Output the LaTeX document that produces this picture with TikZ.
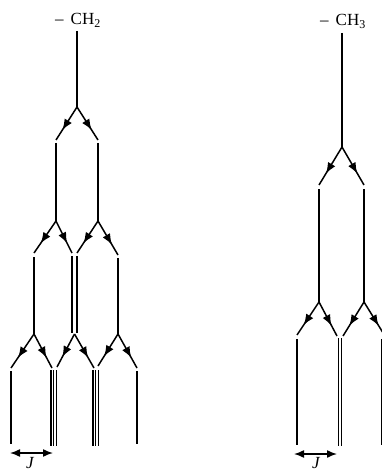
\documentclass[tikz,border=0pt]{standalone}
\usepackage{fontspec}
\setmainfont{Liberation Serif}
\usetikzlibrary{arrows.meta,decorations.markings}
\tikzset{
  ln/.style={line width=1.5pt, line cap=butt},
  dg/.style={ln, postaction={decorate},
    decoration={markings, mark=at position 0.7 with {\arrow{Latex[length=11pt,width=8.5pt]}}}},
  trip/.style={line width=1.2pt, line cap=butt},
  jar/.style={line width=1.5pt, {Latex[length=10pt,width=8pt]}-{Latex[length=10pt,width=8pt]}},
  lbl/.style={inner sep=0pt, font=\fontsize{17}{17}\selectfont},
}
\begin{document}
\begin{tikzpicture}[x=1pt,y=-1pt]
\useasboundingbox (0,0) rectangle (382,473);
\clip (0,0) rectangle (382,473);

% ---------------- labels ----------------
\node[lbl, anchor=base west] (ch2) at (55,25) {–\hspace{7pt}CH\raisebox{-0.35ex}{\fontsize{12}{12}\selectfont 2}};
\node[lbl, anchor=base west] (ch3) at (320,26) {–\hspace{7pt}CH\raisebox{-0.35ex}{\fontsize{12}{12}\selectfont 3}};

% ---------------- left tree (CH2) ----------------
\coordinate (A0t) at (77,31);
\coordinate (A0) at (77,107);
\draw[ln] (A0t) -- (A0);
% level 1
\coordinate (A1a) at (56,140); \coordinate (A1at) at (56,143); \coordinate (A1ab) at (56,221);
\coordinate (A1b) at (98,140); \coordinate (A1bt) at (98,143); \coordinate (A1bb) at (98,221);
\draw[dg] (A0) -- (A1a);
\draw[dg] (A0) -- (A1b);
\draw[ln] (A1at) -- (A1ab);
\draw[ln] (A1bt) -- (A1bb);
% level 2
\coordinate (A2a) at (34,253); \coordinate (A2at) at (34,257); \coordinate (A2ab) at (34,334);
\coordinate (A2b) at (72,253); \coordinate (A2bt) at (72,256); \coordinate (A2bb) at (72,333);
\coordinate (A2c) at (77,253); \coordinate (A2ct) at (77,256); \coordinate (A2cb) at (77,333);
\coordinate (A2d) at (118,255); \coordinate (A2dt) at (118,258); \coordinate (A2db) at (118,334);
\coordinate (A2m) at (74.5,334);
\draw[dg] (A1ab) -- (A2a);
\draw[dg] (A1ab) -- (A2b);
\draw[dg] (A1bb) -- (A2c);
\draw[dg] (A1bb) -- (A2d);
\draw[ln] (A2at) -- (A2ab);
\draw[ln] (A2bt) -- (A2bb);
\draw[ln] (A2ct) -- (A2cb);
\draw[ln] (A2dt) -- (A2db);
% level 3
\coordinate (A3a) at (11,368); \coordinate (A3at) at (11,371); \coordinate (A3ab) at (11,444);
\coordinate (A3b) at (52,368);
\coordinate (A3c) at (57,367);
\coordinate (A3d) at (94,368);
\coordinate (A3e) at (98,366);
\coordinate (A3f) at (137,368); \coordinate (A3ft) at (137,371); \coordinate (A3fb) at (137,444);
\draw[dg] (A2ab) -- (A3a);
\draw[dg] (A2ab) -- (A3b);
\draw[dg] (A2m) -- (A3c);
\draw[dg] (A2m) -- (A3d);
\draw[dg] (A2db) -- (A3e);
\draw[dg] (A2db) -- (A3f);
\draw[ln] (A3at) -- (A3ab);
\draw[ln] (A3ft) -- (A3fb);
\foreach \x [count=\i] in {51,53.6,56.2,93,95.6,98.2}{
  \coordinate (T\i t) at (\x,370);
  \coordinate (T\i b) at (\x,446);
  \draw[trip] (T\i t) -- (T\i b);
}
% coupling constant
\coordinate (AJl) at (10,453); \coordinate (AJr) at (53,453);
\draw[jar] (AJl) -- (AJr);
\node[lbl, anchor=base, font=\fontsize{17}{17}\selectfont\itshape] (J1) at (30,468) {J};

% ---------------- right tree (CH3) ----------------
\coordinate (B0t) at (342,33);
\coordinate (B0) at (342,147);
\draw[ln] (B0t) -- (B0);
% level 1
\coordinate (B1a) at (319,185); \coordinate (B1at) at (319,189); \coordinate (B1ab) at (319,302);
\coordinate (B1b) at (364,185); \coordinate (B1bt) at (364,189); \coordinate (B1bb) at (364,302);
\draw[dg] (B0) -- (B1a);
\draw[dg] (B0) -- (B1b);
\draw[ln] (B1at) -- (B1ab);
\draw[ln] (B1bt) -- (B1bb);
% level 2
\coordinate (B2a) at (297,335); \coordinate (B2at) at (297,339); \coordinate (B2ab) at (297,445);
\coordinate (B2b) at (337,336);
\coordinate (B2c) at (343,336);
\coordinate (B2d) at (385,336); \coordinate (B2dt) at (382,339); \coordinate (B2db) at (382,445);
\draw[dg] (B1ab) -- (B2a);
\draw[dg] (B1ab) -- (B2b);
\draw[dg] (B1bb) -- (B2c);
\draw[dg] (B1bb) -- (B2d);
\draw[ln] (B2at) -- (B2ab);
\draw[ln] (B2dt) -- (B2db);
\coordinate (D1t) at (338.5,338); \coordinate (D1b) at (338.5,446);
\coordinate (D2t) at (341.5,338); \coordinate (D2b) at (341.5,446);
\draw[ln] (D1t) -- (D1b);
\draw[ln] (D2t) -- (D2b);
% coupling constant
\coordinate (BJl) at (294,454); \coordinate (BJr) at (337,454);
\draw[jar] (BJl) -- (BJr);
\node[lbl, anchor=base, font=\fontsize{17}{17}\selectfont\itshape] (J2) at (316,468) {J};
\end{tikzpicture}
\end{document}
